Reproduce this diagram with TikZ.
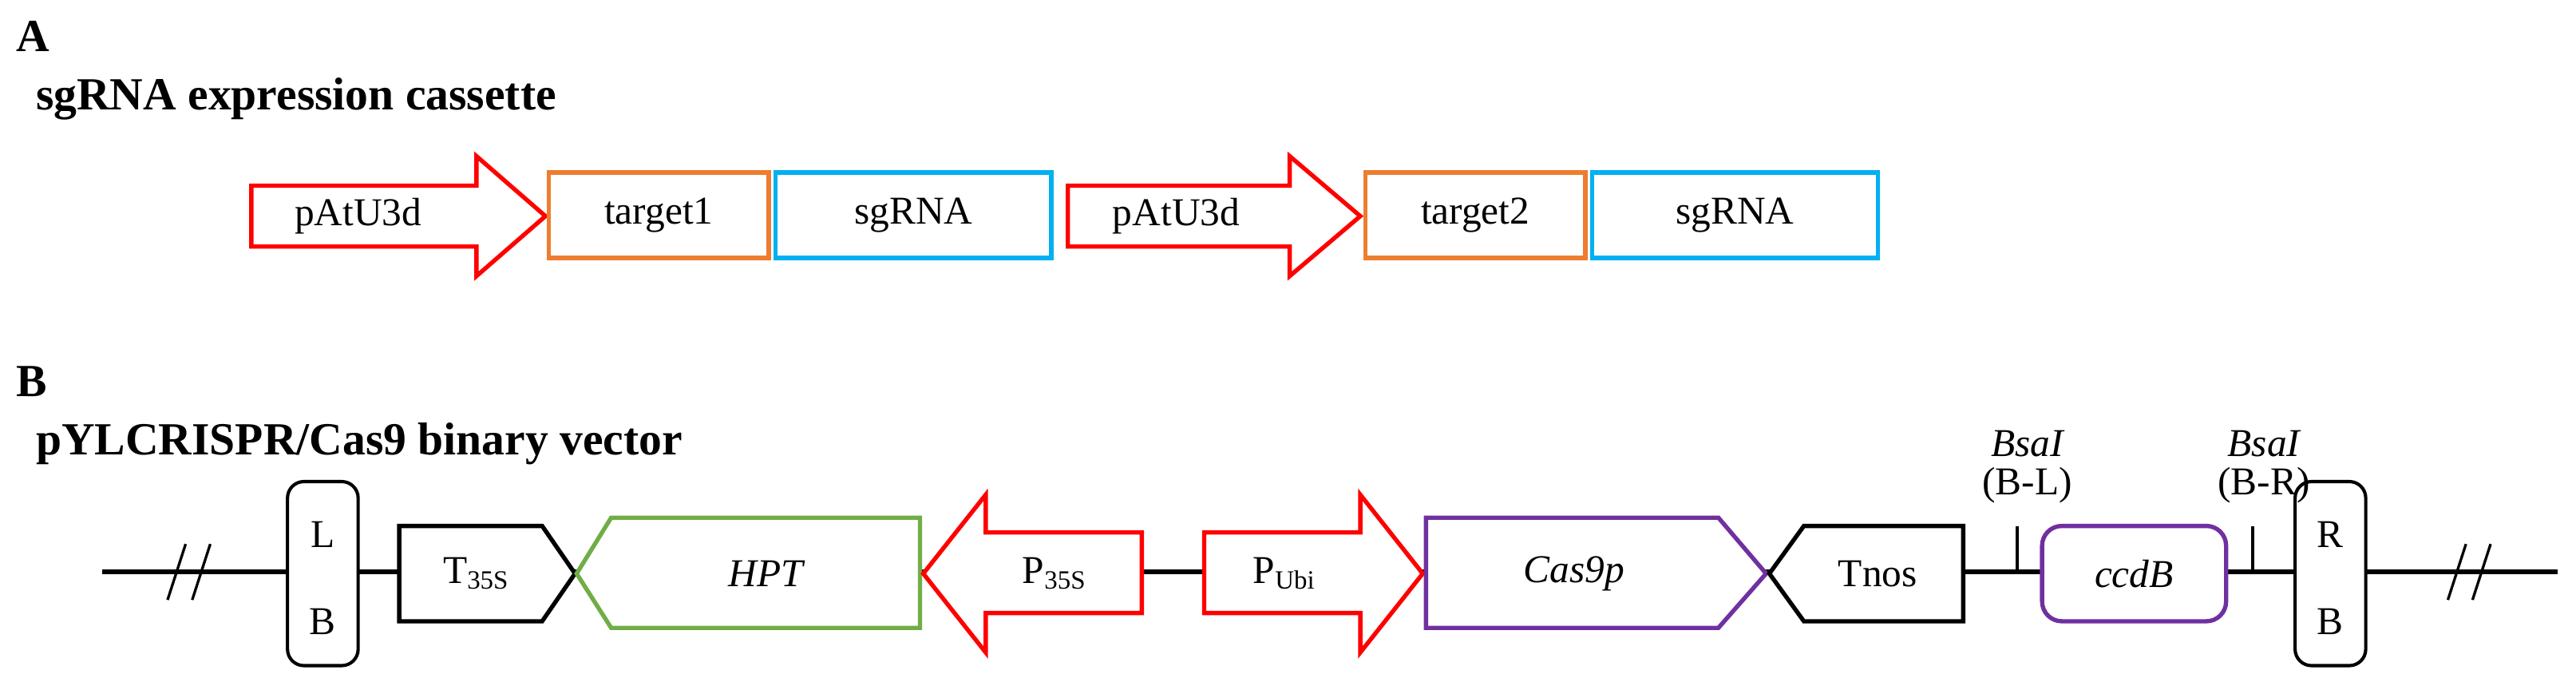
\documentclass[tikz,border=0pt]{standalone}
\usepackage{fontspec}
\setmainfont{Liberation Serif}
\definecolor{cRed}{RGB}{255,0,0}
\definecolor{cOrange}{RGB}{237,125,49}
\definecolor{cBlue}{RGB}{0,176,240}
\definecolor{cGreen}{RGB}{112,173,71}
\definecolor{cPurple}{RGB}{112,48,160}
\tikzset{
  lbl/.style={inner sep=0.75pt, font=\fontsize{12}{14}\selectfont},
  ttl/.style={anchor=west, inner sep=0.75pt, font=\bfseries\fontsize{14}{16}\selectfont},
  prom/.style={draw=cRed, line width=1.3pt, fill=white},
  elem/.style={line width=1.3pt, fill=white},
}
\begin{document}
\begin{tikzpicture}[x=0.5pt,y=-0.5pt]
        \useasboundingbox (0,0) rectangle (1568,417);

        % Panel A
        \node [ttl] (labA) at (8,22) {A};
        \node [ttl] (ttlA) at (20,60) {sgRNA expression cassette};

        %Shape: promoter arrows
        \draw [prom] (153,113) -- (290,113) -- (290,95) -- (332,131.5) -- (290,168) -- (290,150) -- (153,150) -- cycle ;
        \draw [prom] (650,113) -- (785,113) -- (785,95) -- (828,131.5) -- (785,168) -- (785,150) -- (650,150) -- cycle ;
        %Shape: Rectangles
        \draw [elem, draw=cOrange] (334,105) rectangle (468,157) ;
        \draw [elem, draw=cBlue] (472,105) rectangle (640,157) ;
        \draw [elem, draw=cOrange] (831,105) rectangle (965,157) ;
        \draw [elem, draw=cBlue] (969,105) rectangle (1143,157) ;

        % Text Node
        \node [lbl] (pA1) at (218,131.5) {pAtU3d};
        \node [lbl] (tg1) at (401,131) {target1};
        \node [lbl] (sg1) at (556,131) {sgRNA};
        \node [lbl] (pA2) at (716,131.5) {pAtU3d};
        \node [lbl] (tg2) at (898,131) {target2};
        \node [lbl] (sg2) at (1056,131) {sgRNA};

        % Panel B
        \node [ttl] (labB) at (8,232) {B};
        \node [ttl] (ttlB) at (20,270) {pYLCRISPR/Cas9 binary vector};

        %Straight Lines: backbone
        \coordinate (bbL) at (62,348);
        \coordinate (bbR) at (1557,348);
        \draw [line width=1.6pt] (bbL) -- (bbR) ;
        \draw [line width=0.8pt] (102,365) -- (113,331) (117,365) -- (128,331) ;
        \draw [line width=0.8pt] (1490,365) -- (1501,331) (1505,365) -- (1516,331) ;

        %Shape: borders
        \draw [line width=1pt, fill=white, rounded corners=5pt] (175,293) rectangle (218,405) ;
        \draw [line width=1pt, fill=white, rounded corners=5pt] (1397,293) rectangle (1440,405) ;
        \node [lbl] (lbL) at (196.5,325) {L};
        \node [lbl] (lbB) at (196.5,378) {B};
        \node [lbl] (rbR) at (1418.5,325) {R};
        \node [lbl] (rbB) at (1418.5,378) {B};

        %Shape: T35S and HPT
        \draw [elem, draw=black] (243,320) -- (330,320) -- (350,349) -- (330,378) -- (243,378) -- cycle ;
        \draw [elem, draw=cGreen] (351,349) -- (372,315) -- (560,315) -- (560,382) -- (372,382) -- cycle ;
        \node [lbl] (t35) at (290,349) {T\textsubscript{35S}};
        \node [lbl] (hpt) at (466,349) {\itshape HPT};

        %Shape: P35S and PUbi
        \draw [prom] (695,324) -- (600,324) -- (600,301) -- (562,349) -- (600,397) -- (600,373) -- (695,373) -- cycle ;
        \draw [prom] (733,324) -- (828,324) -- (828,301) -- (866,349) -- (828,397) -- (828,373) -- (733,373) -- cycle ;
        \node [lbl] (p35) at (642,349) {P\textsubscript{35S}};
        \node [lbl] (pub) at (782,349) {P\textsubscript{Ubi}};

        %Shape: Cas9p, Tnos, ccdB
        \draw [elem, draw=cPurple] (868,315) -- (1046,315) -- (1075,349) -- (1046,382) -- (868,382) -- cycle ;
        \draw [elem, draw=black] (1077,349) -- (1098,320) -- (1195,320) -- (1195,378) -- (1098,378) -- cycle ;
        \draw [elem, draw=cPurple, rounded corners=6pt] (1243,320) rectangle (1355,378) ;
        \node [lbl] (cas) at (958,349) {\itshape Cas9p};
        \node [lbl] (tno) at (1143,349) {Tnos};
        \node [lbl] (ccd) at (1299,349) {\itshape ccdB};

        %Straight Lines: BsaI sites
        \coordinate (bsL) at (1228,348);
        \coordinate (bsR) at (1371,348);
        \draw [line width=1pt] (bsL) -- ++(0,-28) ;
        \draw [line width=1pt] (bsR) -- ++(0,-28) ;
        \node [lbl] (bs1) at (1234,270) {\itshape BsaI};
        \node [lbl] (bl1) at (1234,295) {(B-L)};
        \node [lbl] (bs2) at (1378,270) {\itshape BsaI};
        \node [lbl] (bl2) at (1378,295) {(B-R)};
\end{tikzpicture}
\end{document}
